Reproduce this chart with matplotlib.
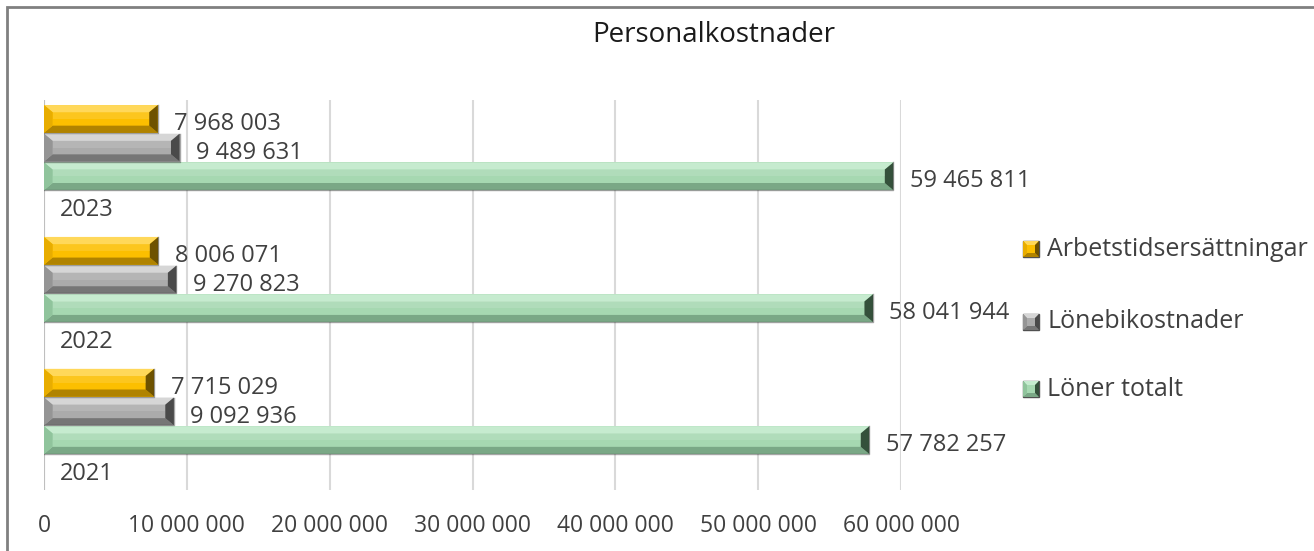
import matplotlib.pyplot as plt
from matplotlib.patches import Polygon, Rectangle

plt.rcParams["font.family"] = ["Open Sans", "DejaVu Sans"]

years = ["2021", "2022", "2023"]
series_names = ["Löner totalt", "Lönebikostnader", "Arbetstidsersättningar"]
loner_totalt = [57782257, 58041944, 59465811]
lonebikostnader = [9092936, 9270823, 9489631]
arbetstid = [7715029, 8006071, 7968003]

# face, top, bottom, left, right-end colours for the bevelled bars
palette = {
    "Löner totalt": ("#a6d8b1", "#c6ebcf", "#7aa886", "#90c49c", "#34503b"),
    "Lönebikostnader": ("#ababab", "#d6d6d6", "#767676", "#959595", "#4a4a4a"),
    "Arbetstidsersättningar": ("#fcbf00", "#ffd85a", "#b08300", "#e8ad00", "#6e5200"),
}

text_col = "#404040"
W, H = 1314, 551
fig = plt.figure(figsize=(W / 100, H / 100), dpi=100)

# outer chart border (left and top visible)
fig.patches.append(Rectangle((7 / W, -0.1), 1.2, 1 - 7 / H + 0.1, transform=fig.transFigure,
                             fill=False, edgecolor="#808080", linewidth=2))

ax = fig.add_axes([44 / W, (H - 490) / H, (901 - 44) / W, 390 / H])
ax.set_xlim(0, 60e6)
ax.set_ylim(0, 13.6)
for s in ax.spines.values():
    s.set_visible(False)
ax.set_yticks([])
ax.set_xticks(range(0, 60000001, 10000000))
ax.set_xticklabels([f"{v:,}".replace(",", " ") for v in range(0, 60000001, 10000000)],
                   fontsize=16.5, color=text_col)
ax.tick_params(axis="x", length=0, pad=17)
ax.grid(axis="x", color="#d9d9d9", linewidth=1.5)
ax.set_axisbelow(True)
ax.axvline(0, color="#bfbfbf", linewidth=1.5, zorder=1)

fig.text(714 / W, 1 - 35 / H, "Personalkostnader", ha="center", va="center",
         fontsize=20, color="#1a1a1a")

bev_x = 600000
bev_y = 0.25
bh = 0.97
pitch = 4.6
base = 1.74


def bevel_bar(yc, val, cols):
    face, top, bot, left, right = cols
    y0, y1 = yc - bh / 2, yc + bh / 2
    ax.barh(yc, val, height=bh, color=face, edgecolor="none", zorder=2)
    ix0, ix1 = bev_x, val - bev_x
    iy0, iy1 = y0 + bev_y, y1 - bev_y
    facets = [
        ([(0, y1), (val, y1), (ix1, iy1), (ix0, iy1)], top),
        ([(0, y0), (val, y0), (ix1, iy0), (ix0, iy0)], bot),
        ([(0, y0), (0, y1), (ix0, iy1), (ix0, iy0)], left),
        ([(val, y0), (val, y1), (ix1, iy1), (ix1, iy0)], right),
    ]
    for pts, c in facets:
        ax.add_patch(Polygon(pts, closed=True, facecolor=c, edgecolor="none", zorder=3))
    # soft highlight on the upper part of the face
    ax.add_patch(Rectangle((ix0, yc), ix1 - ix0, iy1 - yc, facecolor="white",
                           alpha=0.12, edgecolor="none", zorder=3))
    ax.plot([0, val, val], [y0, y0, y1], color="#3a3a3a", linewidth=1, alpha=0.45, zorder=4)


for g, yr in enumerate(years):
    yc = base + pitch * g
    for k, (name, vals) in enumerate(zip(series_names, [loner_totalt, lonebikostnader, arbetstid])):
        y = yc + k
        bevel_bar(y, vals[g], palette[name])
        ax.text(vals[g] + 1.15e6, y - 0.18, f"{vals[g]:,}".replace(",", " "),
                ha="left", va="center", fontsize=17, color=text_col, zorder=5)
    ax.text(1.1e6, yc - 1.17, yr, ha="left", va="center", fontsize=17, color=text_col)

# legend drawn at the right side with small bevelled squares
leg_rows = [(249, "Arbetstidsersättningar"), (322, "Lönebikostnader"), (389, "Löner totalt")]
sq = 16
for py, name in leg_rows:
    face, top, bot, left, right = palette[name]
    x0, y0 = 1023, py - sq / 2
    b = 4

    def f(px, pyy):
        return (px / W, 1 - pyy / H)

    facets = [
        ([f(x0, y0), f(x0 + sq, y0), f(x0 + sq - b, y0 + b), f(x0 + b, y0 + b)], top),
        ([f(x0, y0 + sq), f(x0 + sq, y0 + sq), f(x0 + sq - b, y0 + sq - b), f(x0 + b, y0 + sq - b)], bot),
        ([f(x0, y0), f(x0, y0 + sq), f(x0 + b, y0 + sq - b), f(x0 + b, y0 + b)], left),
        ([f(x0 + sq, y0), f(x0 + sq, y0 + sq), f(x0 + sq - b, y0 + sq - b), f(x0 + sq - b, y0 + b)], right),
    ]
    fig.patches.append(Polygon([f(x0, y0), f(x0 + sq, y0), f(x0 + sq, y0 + sq), f(x0, y0 + sq)],
                               closed=True, transform=fig.transFigure, facecolor=face,
                               edgecolor="#505050", linewidth=1))
    for pts, c in facets:
        fig.patches.append(Polygon(pts, closed=True, transform=fig.transFigure,
                                   facecolor=c, edgecolor="none"))
    fig.text(1047 / W, 1 - py / H, name, ha="left", va="center", fontsize=18, color=text_col)

fig.savefig("out.png", dpi=100)
